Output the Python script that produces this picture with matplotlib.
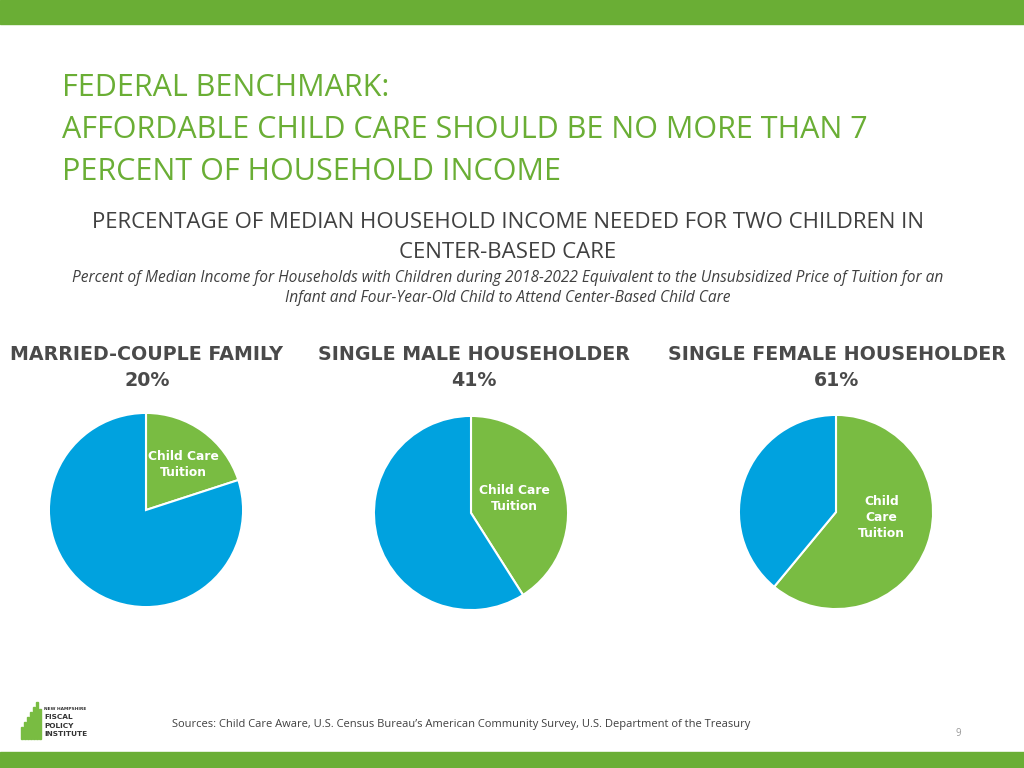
import matplotlib.pyplot as plt
from matplotlib.patches import Rectangle

# data
groups = ["MARRIED-COUPLE FAMILY", "SINGLE MALE HOUSEHOLDER", "SINGLE FEMALE HOUSEHOLDER"]
tuition_pct = [20, 41, 61]
slice_labels = ["Child Care\nTuition", "Child Care\nTuition", "Child\nCare\nTuition"]

GREEN = "#6aae35"
PIE_GREEN = "#79bc42"
PIE_BLUE = "#00a2df"
GRAY = "#404040"

W, H = 1024, 768
fig = plt.figure(figsize=(W / 100, H / 100), dpi=100)

def fx(px):
    return px / W

def fy(py):
    return 1 - py / H

# top and bottom bands
fig.patches.append(Rectangle((0, fy(24)), 1, 24 / H, transform=fig.transFigure, color=GREEN, zorder=0))
fig.patches.append(Rectangle((0, 0), 1, 16 / H, transform=fig.transFigure, color=GREEN, zorder=0))

# main title
for i, line in enumerate(["FEDERAL BENCHMARK:",
                          "AFFORDABLE CHILD CARE SHOULD BE NO MORE THAN 7",
                          "PERCENT OF HOUSEHOLD INCOME"]):
    fig.text(fx(62), fy(88 + 42 * i), line, color=GREEN, fontsize=22, family="Open Sans",
             va="center", ha="left")

fig.text(fx(508), fy(222), "PERCENTAGE OF MEDIAN HOUSEHOLD INCOME NEEDED FOR TWO CHILDREN IN",
         color=GRAY, fontsize=16, family="Open Sans", ha="center", va="center")
fig.text(fx(508), fy(253), "CENTER-BASED CARE",
         color=GRAY, fontsize=16, family="Open Sans", ha="center", va="center")
fig.text(fx(508), fy(278), "Percent of Median Income for Households with Children during 2018-2022 "
         "Equivalent to the Unsubsidized Price of Tuition for an",
         color=GRAY, fontsize=11.2, style="italic", family="Open Sans", ha="center", va="center")
fig.text(fx(508), fy(298), "Infant and Four-Year-Old Child to Attend Center-Based Child Care",
         color=GRAY, fontsize=11.2, style="italic", family="Open Sans", ha="center", va="center")

# pies
centers = [(146, 510), (471, 513), (836, 512)]
title_x = [147, 474, 837]
label_pos = [(0.39, 0.47), (0.45, 0.15), (0.47, -0.06)]
r = 99
for k in range(3):
    cx, cy = centers[k]
    ax = fig.add_axes([fx(cx - r), fy(cy + r), 2 * r / W, 2 * r / H])
    vals = [tuition_pct[k], 100 - tuition_pct[k]]
    ax.pie(vals, colors=[PIE_GREEN, PIE_BLUE], startangle=90, counterclock=False, radius=1,
           wedgeprops=dict(edgecolor="white", linewidth=1.5))
    ax.set_xlim(-1.02, 1.02)
    ax.set_ylim(-1.02, 1.02)
    ax.set_aspect("equal")
    ax.axis("off")
    lx, ly = label_pos[k]
    ax.text(lx, ly, slice_labels[k], color="white", fontsize=8.8, fontweight="bold",
            family="DejaVu Sans", ha="center", va="center", linespacing=1.3)
    fig.text(fx(title_x[k]), fy(355), groups[k], color="#4a4a4a", fontsize=13.7,
             fontweight="bold", family="DejaVu Sans", ha="center", va="center")
    fig.text(fx(title_x[k]), fy(380), f"{tuition_pct[k]}%", color="#4a4a4a", fontsize=13.7,
             fontweight="bold", family="DejaVu Sans", ha="center", va="center")

# footer
fig.text(fx(172), fy(724), "Sources: Child Care Aware, U.S. Census Bureau\u2019s American Community Survey, "
         "U.S. Department of the Treasury", color=GRAY, fontsize=8.05, family="Open Sans",
         ha="left", va="center")
fig.text(fx(958), fy(733), "9", color="#999999", fontsize=7, family="Open Sans", ha="center", va="center")

# logo
bar_h = [12, 17, 22, 27, 32, 37, 30]
for i, h in enumerate(bar_h):
    fig.patches.append(Rectangle((fx(21 + i * 3), fy(739)), 2 / W, h / H,
                                 transform=fig.transFigure, color=PIE_GREEN))
fig.text(fx(44), fy(709), "NEW HAMPSHIRE", color="#333333", fontsize=3.2, fontweight="bold",
         family="DejaVu Sans", va="center")
for i, t in enumerate(["FISCAL", "POLICY", "INSTITUTE"]):
    fig.text(fx(44), fy(717 + 8.5 * i), t, color="#333333", fontsize=5.3, fontweight="bold",
             family="DejaVu Sans", va="center")

fig.savefig("out.png", dpi=100)
